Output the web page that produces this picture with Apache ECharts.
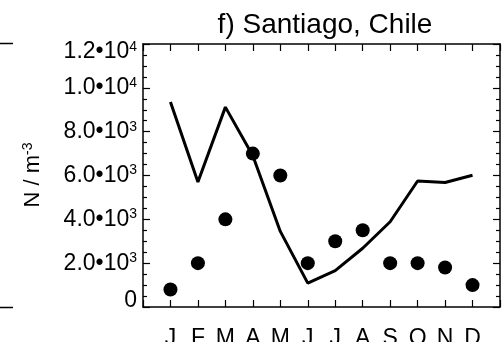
<!DOCTYPE html>
<html>
<head>
<meta charset="utf-8">
<script src="https://cdn.jsdelivr.net/npm/echarts@6/dist/echarts.min.js"></script>
<style>
html,body{margin:0;padding:0;background:#fff;}
#chart{width:504px;height:342px;}
</style>
</head>
<body>
<div id="chart"></div>
<script>
var months = ['J','F','M','A','M','J','J','A','S','O','N','D'];
var modelValues = [9350, 5700, 9120, 6900, 3450, 1090, 1660, 2680, 3890, 5750, 5680, 6010];
var observedValues = [800, 2000, 4000, 7000, 6000, 2000, 3000, 3500, 2000, 2000, 1800, 1000];
var yTicks = [0, 2000, 4000, 6000, 8000, 10000, 12000];
var yTickLabels = ['0', '2.0\u202210|3', '4.0\u202210|3', '6.0\u202210|3', '8.0\u202210|3', '1.0\u202210|4', '1.2\u202210|4'];
var titleText = 'f) Santiago, Chile';

var FONT = "'Liberation Sans', Arial, Helvetica, sans-serif";
var chart = echarts.init(document.getElementById('chart'), null, {renderer: 'canvas'});

function pairs(vals) { return vals.map(function (v, i) { return [i + 1, v]; }); }

function yFmt(v) {
  var idx = yTicks.indexOf(v);
  if (idx < 0) return '';
  var s = yTickLabels[idx];
  if (idx === 0) return '{z|' + s + '}\n{sp0|\u200b}';
  var parts = s.split('|');
  var body = '{b|' + parts[0] + '}{s|' + parts[1] + '}';
  if (idx === yTicks.length - 1) return '{sp1|\u200b}\n' + body;
  return body;
}

var axisLineStyle = {color: '#000', width: 1.5};
var option = {
  animation: false,
  backgroundColor: '#fff',
  title: {
    text: titleText,
    left: 320, top: 6, textAlign: 'center',
    textStyle: {fontFamily: FONT, fontSize: 28, fontWeight: 'normal', color: '#000'}
  },
  grid: {left: 143, right: 4, top: 44, bottom: 35, containLabel: false, outerBoundsMode: 'none'},
  xAxis: [{
    type: 'value', min: 0, max: 13, interval: 1, position: 'bottom',
    axisLine: {show: true, onZero: false, lineStyle: axisLineStyle},
    axisTick: {show: true, inside: true, length: 7, lineStyle: {color: '#000', width: 1.2}},
    splitLine: {show: false},
    axisLabel: {
      margin: 20, fontFamily: FONT, fontSize: 23, color: '#000',
      formatter: function (v) { return months[v - 1] || ''; }
    }
  }, {
    type: 'value', min: 0, max: 13, interval: 1, position: 'top',
    axisLine: {show: true, onZero: false, lineStyle: axisLineStyle},
    axisTick: {show: true, inside: true, length: 7, lineStyle: {color: '#000', width: 1.2}},
    splitLine: {show: false},
    axisLabel: {show: false}
  }],
  yAxis: [{
    type: 'value', min: 0, max: 12000, interval: 2000, position: 'left',
    axisLine: {show: true, onZero: false, lineStyle: axisLineStyle},
    axisTick: {show: true, inside: true, length: 7, lineStyle: {color: '#000', width: 1.2}},
    minorTick: {show: true, splitNumber: 4, length: 4, lineStyle: {color: '#000', width: 1.2}},
    splitLine: {show: false},
    axisLabel: {
      margin: 6, color: '#000', fontFamily: FONT,
      formatter: yFmt,
      rich: {
        b: {fontFamily: FONT, fontSize: 23, color: '#000', lineHeight: 24},
        s: {fontFamily: FONT, fontSize: 14, color: '#000', verticalAlign: 'top', lineHeight: 14},
        z: {fontFamily: FONT, fontSize: 23, color: '#000', lineHeight: 24},
        sp0: {fontSize: 1, lineHeight: 13},
        sp1: {fontSize: 1, lineHeight: 16}
      }
    }
  }, {
    type: 'value', min: 0, max: 12000, interval: 2000, position: 'right',
    axisLine: {show: true, onZero: false, lineStyle: axisLineStyle},
    axisTick: {show: true, inside: true, length: 7, lineStyle: {color: '#000', width: 1.2}},
    minorTick: {show: true, splitNumber: 4, length: 4, lineStyle: {color: '#000', width: 1.2}},
    splitLine: {show: false},
    axisLabel: {show: false}
  }],
  graphic: [
    {
      type: 'text', x: 33, y: 175, rotation: Math.PI / 2,
      style: {
        text: '{n|N / m}{e|-3}', textAlign: 'center', textVerticalAlign: 'middle',
        rich: {
          n: {fontFamily: FONT, fontSize: 22, fill: '#000', lineHeight: 24},
          e: {fontFamily: FONT, fontSize: 14, fill: '#000', verticalAlign: 'top', lineHeight: 14}
        }
      }
    },
    {type: 'line', shape: {x1: 0, y1: 43.5, x2: 13, y2: 43.5}, style: {stroke: '#000', lineWidth: 1.5}},
    {type: 'line', shape: {x1: 0, y1: 307.5, x2: 13, y2: 307.5}, style: {stroke: '#000', lineWidth: 1.5}}
  ],
  series: [{
    type: 'line', xAxisIndex: 0, yAxisIndex: 0,
    data: pairs(modelValues),
    showSymbol: false, symbol: 'none',
    lineStyle: {color: '#000', width: 3},
    z: 2
  }, {
    type: 'scatter', xAxisIndex: 0, yAxisIndex: 0,
    data: pairs(observedValues),
    symbol: 'circle', symbolSize: 14,
    itemStyle: {color: '#000', opacity: 1},
    z: 3
  }]
};
chart.setOption(option);
</script>
</body>
</html>
